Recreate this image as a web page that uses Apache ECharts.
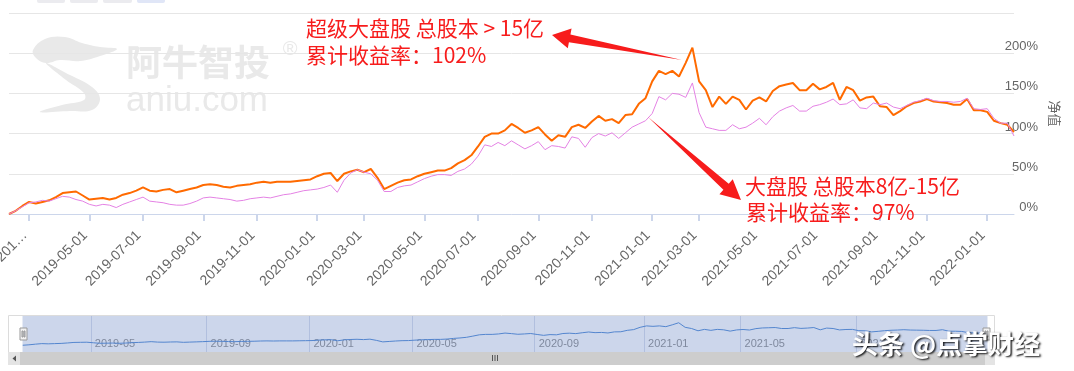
<!DOCTYPE html>
<html><head><meta charset="utf-8">
<script src="https://cdn.jsdelivr.net/npm/echarts@6/dist/echarts.min.js"></script>
<style>html,body{margin:0;padding:0;background:#fff}#c{width:1074px;height:371px}</style>
</head><body><div id="c"></div>
<script>
// weekly sample dates (trading weeks)
const categories = [
'2019-02-11','2019-02-15','2019-02-22','2019-03-01','2019-03-08','2019-03-15','2019-03-22','2019-03-29','2019-04-04','2019-04-12',
'2019-04-19','2019-04-26','2019-04-30','2019-05-10','2019-05-17','2019-05-24','2019-05-31','2019-06-06','2019-06-14','2019-06-21',
'2019-06-28','2019-07-05','2019-07-12','2019-07-19','2019-07-26','2019-08-02','2019-08-09','2019-08-16','2019-08-23','2019-08-30',
'2019-09-06','2019-09-12','2019-09-20','2019-09-27','2019-10-11','2019-10-18','2019-10-25','2019-11-01','2019-11-08','2019-11-15',
'2019-11-22','2019-11-29','2019-12-06','2019-12-13','2019-12-20','2019-12-27','2020-01-03','2020-01-10','2020-01-17','2020-01-23',
'2020-02-07','2020-02-14','2020-02-21','2020-02-28','2020-03-06','2020-03-13','2020-03-20','2020-03-27','2020-04-03','2020-04-10',
'2020-04-17','2020-04-24','2020-04-30','2020-05-08','2020-05-15','2020-05-22','2020-05-29','2020-06-05','2020-06-12','2020-06-19',
'2020-06-24','2020-07-03','2020-07-10','2020-07-17','2020-07-24','2020-07-31','2020-08-07','2020-08-14','2020-08-21','2020-08-28',
'2020-09-04','2020-09-11','2020-09-18','2020-09-25','2020-10-09','2020-10-16','2020-10-23','2020-10-30','2020-11-06','2020-11-13',
'2020-11-20','2020-11-27','2020-12-04','2020-12-11','2020-12-18','2020-12-25','2020-12-31','2021-01-08','2021-01-15','2021-01-22',
'2021-01-29','2021-02-05','2021-02-19','2021-02-26','2021-03-05','2021-03-12','2021-03-19','2021-03-26','2021-04-02','2021-04-09',
'2021-04-16','2021-04-23','2021-04-30','2021-05-07','2021-05-14','2021-05-21','2021-05-28','2021-06-04','2021-06-11','2021-06-18',
'2021-06-25','2021-07-02','2021-07-09','2021-07-16','2021-07-23','2021-07-30','2021-08-06','2021-08-13','2021-08-20','2021-08-27',
'2021-09-03','2021-09-10','2021-09-17','2021-09-24','2021-09-30','2021-10-15','2021-10-22','2021-10-29','2021-11-05','2021-11-12',
'2021-11-19','2021-11-26','2021-12-03','2021-12-10','2021-12-17','2021-12-24','2021-12-31','2022-01-07','2022-01-14','2022-01-21',
'2022-01-28'
];
// 超级大盘股 (orange), cumulative return %
const superLarge = [
0,4,10,15,13,15,17,21,26,27,
28,23,18,19,20,18,20,24,26,29,
33,29,28,30,31,27,29,31,33,36,
37,36,34,33,35,36,37,39,40,39,
40,40,40,41,42,43,47,50,51,41,
50,53,55,52,56,45,31,35,39,42,
43,47,50,52,54,54,57,63,67,73,
84,96,100,100,104,112,107,101,104,108,
99,91,98,96,108,111,107,115,122,116,
118,113,123,124,137,144,165,178,174,178,
171,188,207,165,154,133,146,137,146,142,
130,141,145,140,153,159,161,163,154,154,
162,155,158,163,142,158,154,141,145,146,
134,133,123,128,134,138,140,143,140,139,
138,136,136,143,129,129,127,116,113,111,
102
];
// 大盘股 (violet), cumulative return %
const large = [
0,4,9,14,15,17,16,19,22,21,
18,16,12,10,12,11,8,12,15,18,
21,16,15,14,12,11,11,13,16,20,
21,20,19,18,16,17,19,20,21,20,
22,24,25,27,29,30,31,33,36,27,
42,51,55,52,50,42,28,28,33,35,
36,40,44,47,49,49,48,53,56,62,
72,86,84,89,85,91,86,81,85,90,
80,85,84,82,96,94,83,95,100,97,
101,94,101,108,112,116,125,146,142,150,
149,145,163,126,108,106,104,104,111,106,
108,113,119,111,121,128,132,135,128,128,
134,136,139,143,136,137,142,132,131,138,
136,138,133,131,135,139,141,144,141,140,
140,139,140,144,131,130,131,119,113,113,
97
];
const tickDates  = ['2019-03-01','2019-04-30','2019-06-28','2019-08-30','2019-11-01','2020-01-03','2020-02-28','2020-04-30','2020-06-24','2020-08-28','2020-10-30','2020-12-31','2021-02-26','2021-04-30','2021-07-02','2021-09-03','2021-10-29','2021-12-31'];
const tickLabels = ['201…','2019-05-01','2019-07-01','2019-09-01','2019-11-01','2020-01-01','2020-03-01','2020-05-01','2020-07-01','2020-09-01','2020-11-01','2021-01-01','2021-03-01','2021-05-01','2021-07-01','2021-09-01','2021-11-01','2022-01-01'];
const navTickDates  = ['2019-04-26','2019-08-30','2019-12-27','2020-04-24','2020-09-04','2021-01-08','2021-04-30','2021-09-03'];
const navTickLabels = ['2019-05','2019-09','2020-01','2020-05','2020-09','2021-01','2021-05','2021-09'];

const tickMap = {}; tickDates.forEach((d, i) => tickMap[d] = tickLabels[i]);
const navMap = {}; navTickDates.forEach((d, i) => navMap[d] = navTickLabels[i]);
const isTick = (i, v) => Object.prototype.hasOwnProperty.call(tickMap, v);
const isNav = (i, v) => Object.prototype.hasOwnProperty.call(navMap, v);

function arrow(tail, tip, headLen, headHalf, shaftHalf) {
  const dx = tip[0] - tail[0], dy = tip[1] - tail[1];
  const L = Math.hypot(dx, dy), ux = dx / L, uy = dy / L, nx = -uy, ny = ux;
  const bx = tip[0] - ux * headLen, by = tip[1] - uy * headLen;
  return [tail, [bx + nx * shaftHalf, by + ny * shaftHalf], [bx + nx * headHalf, by + ny * headHalf], tip,
          [bx - nx * headHalf, by - ny * headHalf], [bx - nx * shaftHalf, by - ny * shaftHalf]];
}
const RED = '#f71c1c';
const CJK = '"Noto Sans CJK SC", sans-serif';
const WM = '#e9e9e9';

const chart = echarts.init(document.getElementById('c'));
chart.setOption({
  animation: false,
  grid: [
    {left: 9, right: 60, top: 13, bottom: 157, outerBoundsMode: 'none'},
    {left: 20, right: 89, top: 316, height: 36, outerBoundsMode: 'none'}
  ],
  xAxis: [{
    type: 'category', data: categories, boundaryGap: false,
    axisLine: {lineStyle: {color: '#ccd6eb', width: 1}},
    axisTick: {interval: isTick, length: 7, lineStyle: {color: '#ccd6eb', width: 2}},
    axisLabel: {interval: isTick, formatter: v => tickMap[v] || '', rotate: 45, margin: 15,
      padding: [0, 6, 0, 0], color: '#666', fontSize: 14, fontFamily: 'Liberation Sans'},
    splitLine: {show: false}
  }, {
    type: 'category', gridIndex: 1, data: categories, boundaryGap: false,
    axisLine: {show: false}, axisTick: {show: false},
    axisLabel: {inside: true, interval: isNav, formatter: v => navMap[v] || '', color: '#8c8c8c',
      fontSize: 11, fontFamily: 'Liberation Sans', align: 'left', margin: 3, padding: [0, 0, 0, 4]},
    splitLine: {show: true, interval: isNav, lineStyle: {color: 'rgba(110,130,185,0.28)', width: 1}}
  }],
  yAxis: [{
    type: 'value', position: 'right', min: 0, max: 250, interval: 50,
    name: '净值', nameLocation: 'middle', nameRotate: -90, nameGap: 17,
    nameTextStyle: {color: '#666', fontSize: 13, fontFamily: CJK},
    axisLine: {show: false}, axisTick: {show: false},
    axisLabel: {formatter: '{value}%', showMaxLabel: false, align: 'right', verticalAlign: 'bottom',
      margin: 24, color: '#666', fontSize: 13, fontFamily: 'Liberation Sans'},
    splitLine: {lineStyle: {color: '#e6e6e6', width: 1}}
  }, {type: 'value', gridIndex: 1, show: false}],
  dataZoom: [{
    type: 'slider', xAxisIndex: [0], start: 0, end: 100,
    left: 20, right: 89, top: 316, height: 36,
    brushSelect: false, showDetail: false,
    borderColor: 'transparent', backgroundColor: 'transparent',
    fillerColor: 'rgba(102,133,194,0.333)',
    dataBackground: {lineStyle: {color: '#4a86d4', width: 1, opacity: 1}, areaStyle: {opacity: 0}},
    selectedDataBackground: {lineStyle: {color: '#4a86d4', width: 1, opacity: 1}, areaStyle: {opacity: 0}},
    handleIcon: 'path://M0,0H7V12H0Z M2,3V9H3V3Z M4,3V9H5V3Z',
    handleSize: 12,
    handleStyle: {color: '#f2f2f2', borderColor: '#999', borderWidth: 1}
  }],
  series: [
    {type: 'line', name: '超级大盘股', data: superLarge, symbol: 'none', showSymbol: false,
      lineStyle: {color: '#ff6a00', width: 2}, itemStyle: {color: '#ff6a00'}, z: 3},
    {type: 'line', name: '大盘股', data: large, symbol: 'none', showSymbol: false,
      lineStyle: {color: '#e482e4', width: 1}, itemStyle: {color: '#e482e4'}, z: 4}
  ],
  graphic: [
    // top tabs (cut off)
    {type: 'rect', z: 1, shape: {x: 37, y: -4, width: 28, height: 7, r: 2}, style: {fill: '#ebebef'}},
    {type: 'rect', z: 1, shape: {x: 70, y: -4, width: 28, height: 7, r: 2}, style: {fill: '#ebebef'}},
    {type: 'rect', z: 1, shape: {x: 103, y: -4, width: 29, height: 7, r: 2}, style: {fill: '#ebebef'}},
    {type: 'rect', z: 1, shape: {x: 137, y: -4, width: 28, height: 7, r: 2}, style: {fill: '#e0e6f7'}},
    // watermark logo
    {type: 'polygon', z: -10, shape: {smooth: 0.4, points: [[33,50],[45,39],[65,37],[82,43],[100,47],[117,49],[100,56],[80,61],[60,60],[46,63],[36,58]]}, style: {fill: WM}},
    {type: 'polygon', z: -10, shape: {smooth: 0.4, points: [[46,63],[70,75],[92,87],[100,99],[92,110],[70,111],[40,112],[62,105],[84,100],[84,93],[66,80]]}, style: {fill: WM}},
    {type: 'text', z: -10, x: 126, y: 62, style: {text: '阿牛智投', fill: WM, font: 'bold 36px ' + CJK, align: 'left', verticalAlign: 'middle', textAlign: 'left', textVerticalAlign: 'middle'}},
    {type: 'text', z: -10, x: 290, y: 49, style: {text: '®', fill: WM, font: '20px Liberation Sans', align: 'center', verticalAlign: 'middle', textAlign: 'center', textVerticalAlign: 'middle'}},
    {type: 'text', z: -10, x: 126, y: 101, style: {text: 'aniu.com', fill: WM, font: '35px Liberation Sans', align: 'left', verticalAlign: 'middle', textAlign: 'left', textVerticalAlign: 'middle'}},
    // slider frame + scrollbar
    {type: 'rect', z: 1, shape: {x: 8.5, y: 315.5, width: 986, height: 37}, style: {fill: 'none', stroke: '#dcdcdc', lineWidth: 1}},
    {type: 'rect', z: 50, shape: {x: 8, y: 352, width: 987, height: 13}, style: {fill: '#cdcdcd'}},
    {type: 'rect', z: 51, shape: {x: 8, y: 352, width: 12, height: 13}, style: {fill: '#e4e4e4'}},
    {type: 'rect', z: 51, shape: {x: 985, y: 352, width: 10, height: 13}, style: {fill: '#e4e4e4'}},
    {type: 'polygon', z: 52, shape: {points: [[16, 355.5], [16, 361.5], [12.5, 358.5]]}, style: {fill: '#555'}},
    {type: 'rect', z: 52, shape: {x: 492, y: 355, width: 1, height: 6}, style: {fill: '#555'}},
    {type: 'rect', z: 52, shape: {x: 494.5, y: 355, width: 1, height: 6}, style: {fill: '#555'}},
    {type: 'rect', z: 52, shape: {x: 497, y: 355, width: 1, height: 6}, style: {fill: '#555'}},
    // annotations
    {type: 'text', z: 100, x: 306, y: 28, style: {text: '超级大盘股 总股本 > 15亿', fill: RED, font: '21px ' + CJK, align: 'left', verticalAlign: 'middle', textAlign: 'left', textVerticalAlign: 'middle'}},
    {type: 'text', z: 100, x: 306, y: 55, style: {text: '累计收益率：102%', fill: RED, font: '21px ' + CJK, align: 'left', verticalAlign: 'middle', textAlign: 'left', textVerticalAlign: 'middle'}},
    {type: 'text', z: 100, x: 745, y: 186, style: {text: '大盘股 总股本8亿-15亿', fill: RED, font: '21px ' + CJK, align: 'left', verticalAlign: 'middle', textAlign: 'left', textVerticalAlign: 'middle'}},
    {type: 'text', z: 100, x: 746, y: 212, style: {text: '累计收益率：97%', fill: RED, font: '21px ' + CJK, align: 'left', verticalAlign: 'middle', textAlign: 'left', textVerticalAlign: 'middle'}},
    {type: 'polygon', z: 100, shape: {points: arrow([682, 60], [552, 35], 18, 10, 4)}, style: {fill: RED}},
    {type: 'polygon', z: 100, shape: {points: arrow([648, 117], [741, 200], 20, 10, 4)}, style: {fill: RED}},
    // bottom-right watermark
    {type: 'text', z: 200, x: 852, y: 344, style: {text: '头条 @点掌财经', fill: '#ffffff', font: 'bold 26px ' + CJK,
      align: 'left', verticalAlign: 'middle', textAlign: 'left', textVerticalAlign: 'middle',
      textShadowColor: 'rgba(0,0,0,0.9)', textShadowBlur: 2, textShadowOffsetX: 1.5, textShadowOffsetY: 1.5}}
  ]
});
</script></body></html>
